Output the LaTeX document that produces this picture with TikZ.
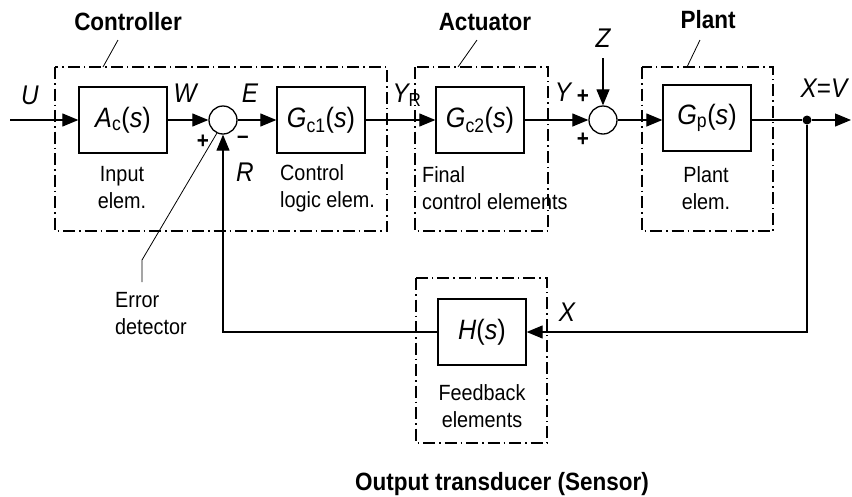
\documentclass[tikz,border=0pt]{standalone}
\usepackage{fontspec}
\setmainfont[FakeStretch=0.9]{Liberation Sans}
\usetikzlibrary{positioning, arrows.meta, calc}

% transfer function label: letter, subscript
\newcommand{\tfn}[2]{\textit{#1}\textsubscript{#2}(\textit{s})}

\begin{document}
\begin{tikzpicture}[x=1pt, y=-1pt,
        block/.style={rectangle, draw, line width=1.3pt, minimum width=88pt, minimum height=66pt, font=\fontsize{28}{30}\selectfont},
        sumnode/.style={circle, draw, line width=1.3pt, minimum size=28pt, inner sep=0pt},
        group/.style={draw, line width=1.1pt, dash pattern=on 12pt off 4pt on 1.5pt off 4pt},
        title/.style={font=\fontsize{25}{28}\selectfont\bfseries},
        lbl/.style={font=\fontsize{22}{27}\selectfont, align=left, inner sep=0pt},
        var/.style={font=\fontsize{27}{30}\selectfont\itshape, inner sep=0pt},
        sign/.style={font=\fontsize{23}{24}\selectfont\bfseries, inner sep=0pt},
        sig/.style={line width=1.2pt, -{Triangle[length=16pt,width=13pt]}},
        wire/.style={line width=1.2pt},
        leader/.style={line width=0.8pt}
    ]
    \useasboundingbox (0,0) rectangle (852,496);
    % Group frames
    \draw[group] (55,67) rectangle (387,231);
    \draw[group] (415,67) rectangle (548,231);
    \draw[group] (642,67) rectangle (773,231);
    \draw[group] (416,278) rectangle (547,443);
    % Blocks
    \node[block] (ac) at (123,120) {\tfn{A}{c}};
    \node[block] (gc1) at (321,120) {\tfn{G}{c1}};
    \node[block] (gc2) at (480,120) {\tfn{G}{c2}};
    \node[block] (gp) at (707,118) {\tfn{G}{p}};
    \node[block] (h) at (482,332) {\textit{H}(\textit{s})};
    % Summing points and branch point
    \node[sumnode] (sum1) at (223,120) {};
    \node[sumnode] (sum2) at (603,120) {};
    \node[circle, fill, inner sep=0pt, minimum size=9pt] (tap) at (807,120) {};
    \coordinate (in) at (10,120);
    \coordinate (out) at (851,120);
    \coordinate (zin) at (603,58);
    % Forward path
    \draw[sig] (in) -- (ac.west);
    \draw[sig] (ac.east) -- (sum1.west);
    \draw[sig] (sum1.east) -- (gc1.west);
    \draw[sig] (gc1.east) -- (gc2.west);
    \draw[sig] (gc2.east) -- (sum2.west);
    \draw[sig] (zin) -- (sum2.north);
    \draw[sig] (sum2.east) -- (gp.west |- sum2.east);
    \draw[wire] (gp.east |- tap) -- (tap);
    \draw[sig] (tap) -- (out);
    % Feedback path
    \draw[sig] (tap) |- (h.east);
    \draw[sig] (h.west) -| (sum1.south);
    % Signal labels
    \node[var] (u) at (30,95) {U};
    \node[var] (w) at (185,93) {W};
    \node[var] (e) at (250,93) {E};
    \node[var] (r) at (245,172) {R};
    \node[var] (yr) at (407,95) {Y\textsubscript{\upshape R}};
    \node[var] (y) at (563,92) {Y};
    \node[var] (z) at (603,38) {Z};
    \node[var] (xv) at (824,88) {X{\upshape =}V};
    \node[var] (x) at (567,312) {X};
    \node[sign] (p1) at (203,142) {+};
    \node[sign] (m1) at (243,140) {--};
    \node[sign] (p2) at (583,97) {+};
    \node[sign] (p3) at (583,140) {+};
    % Element descriptions
    \node[lbl, align=center] (inel) at (122,188) {Input\\elem.};
    \node[lbl, anchor=west] (ctel) at (280,188) {Control\\logic elem.};
    \node[lbl, anchor=west] (fcel) at (422,188) {Final\\control elements};
    \node[lbl, align=center] (plel) at (706,188) {Plant\\elem.};
    \node[lbl, align=center] (fbel) at (482,406) {Feedback\\elements};
    \node[lbl, anchor=west] (err) at (115,314) {Error\\detector};
    % Titles with leaders
    \node[title] (ctrl) at (128,22) {Controller};
    \node[title] (act) at (485,22) {Actuator};
    \node[title] (plant) at (708,20) {Plant};
    \node[title] (sens) at (502,484) {Output transducer (Sensor)};
    \draw[leader] (118,40) -- (103,67);
    \draw[leader] (477,40) -- (458,67);
    \draw[leader] (700,40) -- (687,67);
    \coordinate (errbend) at (142,260);
    \draw[leader] (sum1.245) -- (errbend) -- (142,282);
\end{tikzpicture}
\end{document}
